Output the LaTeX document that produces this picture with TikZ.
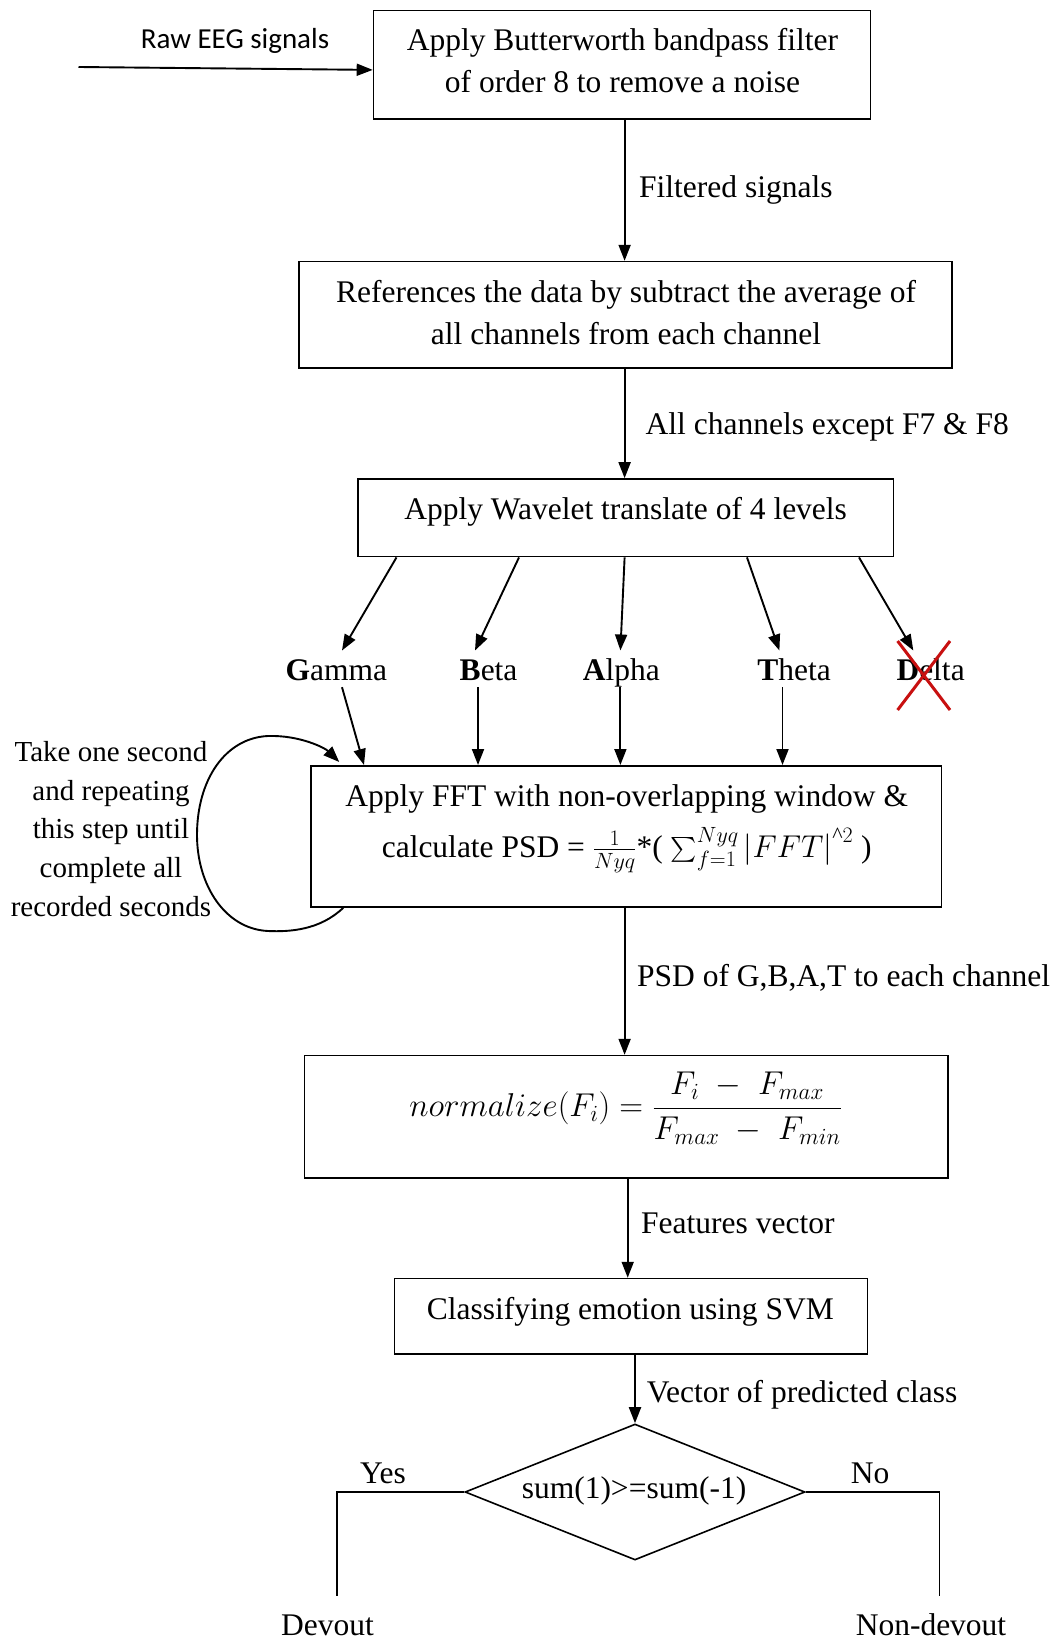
\RequirePackage{fix-cm}
\documentclass[tikz,border=0pt]{standalone}
\usepackage{amsmath}
\usepackage{fontspec}
\setmainfont{Liberation Serif}
\newfontfamily\calibri{Carlito}
\usetikzlibrary{arrows.meta,shapes.geometric,calc}
\definecolor{crossred}{RGB}{200,16,16}

\begin{document}
\begin{tikzpicture}[x=1pt,y=-1pt,
  box/.style={draw,line width=1.6pt,inner sep=0pt},
  txt/.style={inner sep=0pt,align=center,font=\fontsize{31.5}{42}\selectfont},
  elbl/.style={inner sep=0pt,anchor=west,font=\fontsize{31.5}{42}\selectfont},
  band/.style={inner sep=0pt,anchor=base,text height=22pt,text depth=7pt,font=\fontsize{31.5}{42}\selectfont},
  arr/.style={line width=1.9pt,-{Triangle[length=16pt,width=12pt]}},
  plain/.style={line width=1.6pt}]

\fill[white] (0,0) rectangle (1064,1640);
\useasboundingbox (0,0) rectangle (1064,1640);

% process boxes
\node[box,minimum width=497pt,minimum height=108.8pt] (b1) at (622,64.9) {};
\node[txt] (t1) at (622.5,61) {Apply Butterworth bandpass filter\\of order 8 to remove a noise};

\node[box,minimum width=653pt,minimum height=106.4pt] (b2) at (625.5,314.8) {};
\node[txt] (t2) at (626,313) {References the data by subtract the average of\\all channels from each channel};

\node[box,minimum width=535.7pt,minimum height=77.6pt] (b3) at (625.6,517.8) {};
\node[txt] (t3) at (625.6,511.5) {Apply Wavelet translate of 4 levels};

\node[box,minimum width=630.9pt,minimum height=141.2pt] (fft) at (626.2,836.4) {};
\node[txt] (tfft) at (626.7,829) {Apply FFT with non-overlapping window \&\\[9pt]
  calculate PSD = $\frac{1}{Nyq}$*( $\sum_{f=1}^{Nyq}\left|FFT\right|^{\text{\textasciicircum}2}$ )};

\node[box,minimum width=643.5pt,minimum height=122.4pt] (norm) at (626.2,1116.8) {};
\node[txt,font=\fontsize{33}{42}\selectfont] (tnorm) at (625.6,1108) {$normalize(F_i)=\dfrac{F_i\;-\;F_{max}}{F_{max}\;-\;F_{min}}$};

\node[box,minimum width=473pt,minimum height=75.3pt] (svm) at (630.9,1316.2) {};
\node[txt] (tsvm) at (630.3,1312) {Classifying emotion using SVM};

\node[draw,diamond,line width=1.6pt,minimum width=340pt,minimum height=136pt,inner sep=0pt] (dec) at (635,1492) {};
\node[txt] (tdec) at (634,1491) {sum(1)>=sum(-1)};

% input
\node[inner sep=0pt,font=\calibri\fontsize{29}{36}\selectfont] (raw) at (235,41) {Raw EEG signals};
\coordinate (rawin) at (78.5,67);
\draw[arr] (rawin) -- ([yshift=-5pt]b1.west);

% main column
\coordinate (xm) at (624.6,0);
\coordinate (xn) at (627.7,0);
\draw[arr] (b1.south -| xm) -- (b2.north -| xm);
\node[elbl] (l1) at (639,190) {Filtered signals};
\draw[arr] (b2.south -| xm) -- (b3.north -| xm);
\node[elbl] (l2) at (645.5,426.7) {All channels except F7 \& F8};

% frequency bands
\node[band] (gamma) at (336.4,680) {\textbf{G}amma};
\node[band] (beta)  at (488.6,680) {\textbf{B}eta};
\node[band] (alpha) at (621.4,680) {\textbf{A}lpha};
\node[band] (theta) at (794,680)   {\textbf{T}heta};
\node[band] (delta) at (930.6,680) {\textbf{D}elta};

\draw[arr] ([xshift=-229.1pt]b3.south) -- ([xshift=5.6pt,yshift=7.3pt]gamma.north);
\draw[arr] ([xshift=-106.6pt]b3.south) -- ([xshift=-13.6pt,yshift=7.3pt]beta.north);
\draw[arr] ([xshift=-1pt]b3.south)     -- ([xshift=-1pt,yshift=7.3pt]alpha.north);
\draw[arr] ([xshift=121.4pt]b3.south)  -- ([xshift=-14.6pt,yshift=7.3pt]theta.north);
\draw[arr] ([xshift=233.4pt]b3.south)  -- ([xshift=-17.3pt,yshift=7.3pt]delta.north);

% delta band is discarded
\draw[crossred,line width=3pt] (897.6,641) -- (950,710);
\draw[crossred,line width=3pt] (950,641) -- (897.6,710);

\draw[arr] ([xshift=5.6pt]gamma.south) -- ([xshift=-262.2pt]fft.north);
\draw[arr] ([xshift=-10.6pt]beta.south) -- ([xshift=-10.6pt]beta.south |- fft.north);
\draw[arr] ([xshift=-1pt]alpha.south) -- ([xshift=-1pt]alpha.south |- fft.north);
\draw[arr] ([xshift=-11.5pt]theta.south) -- ([xshift=-11.5pt]theta.south |- fft.north);

% per-second loop
\node[inner sep=0pt,align=center,font=\fontsize{29}{38.7}\selectfont] (loop) at (111,829)
  {Take one second\\and repeating\\this step until\\complete all\\recorded seconds};
\draw[arr] ([xshift=33.3pt]fft.south west)
  .. controls (320,930) and (290,932) .. (268,931)
  .. controls (225,929) and (197,885) .. (197,835)
  .. controls (197,780) and (225,738) .. (268,736)
  .. controls (300,735) and (325,748) .. ([xshift=29.3pt,yshift=3pt]fft.north west);

\draw[arr] (fft.south -| xm) -- (norm.north -| xm);
\node[elbl] (l3) at (637,978) {PSD of G,B,A,T to each channel};
\draw[arr] (norm.south -| xn) -- (svm.north -| xn);
\node[elbl] (l4) at (641,1223) {Features vector};
\draw[arr] (svm.south -| dec.north) -- (dec.north);
\node[elbl] (l5) at (646.6,1394.5) {Vector of predicted class};

% decision outcomes
\node[txt] (yes) at (383,1473) {Yes};
\node[txt] (no) at (870,1473) {No};
\node[txt] (devout) at (327.5,1625) {Devout};
\node[txt] (nondevout) at (931,1625) {Non-devout};
\draw[plain] (dec.west) -| ([xshift=9.4pt,yshift=18pt]devout.north);
\draw[plain] (dec.east) -| ([xshift=8.5pt,yshift=18pt]nondevout.north);
\end{tikzpicture}
\end{document}
